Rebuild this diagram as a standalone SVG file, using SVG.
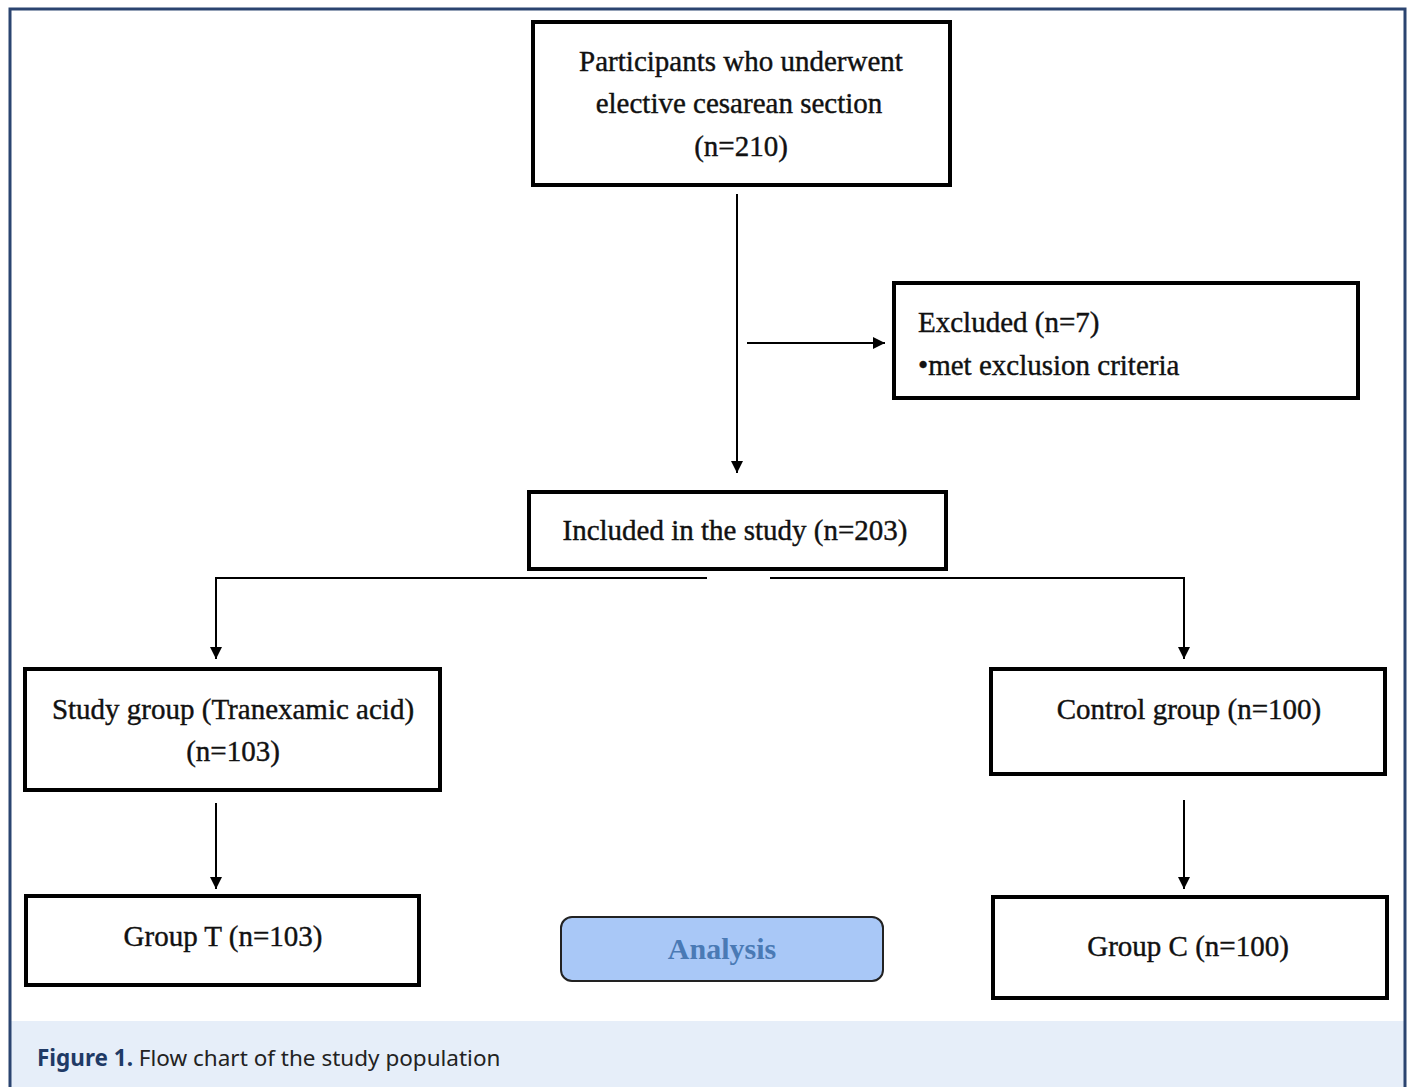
<svg xmlns="http://www.w3.org/2000/svg" width="1412" height="1087" viewBox="0 0 1412 1087">
<defs>
<marker id="ah" viewBox="0 0 12 12" refX="12" refY="6" markerWidth="12" markerHeight="12" markerUnits="userSpaceOnUse" orient="auto">
<path d="M0,0 L12,6 L0,12 z" fill="#000"/>
</marker>
<style>
.box{fill:#fff;stroke:#000;stroke-width:4}
.t{font-family:"Liberation Serif","Times New Roman",serif;font-size:29px;fill:#111;stroke:#111;stroke-width:0.4}
.c{stroke:#000;stroke-width:2;fill:none}
</style>
</defs>
<rect x="0" y="0" width="1412" height="1087" fill="#fff"/>
<rect x="11" y="1021" width="1393" height="66" fill="#e6eef9"/>
<path d="M10,1087 V9 H1405 V1087" fill="none" stroke="#2b4470" stroke-width="3"/>
<g id="connectors">
<path class="c" d="M737,194 V473" marker-end="url(#ah)"/>
<path class="c" d="M747,343 H885" marker-end="url(#ah)"/>
<path class="c" d="M707,578 H216 V659" marker-end="url(#ah)"/>
<path class="c" d="M770,578 H1184 V659" marker-end="url(#ah)"/>
<path class="c" d="M216,803 V889" marker-end="url(#ah)"/>
<path class="c" d="M1184,800 V889" marker-end="url(#ah)"/>
</g>
<g id="n1">
<rect class="box" x="533" y="22" width="417" height="163"/>
<text class="t" x="741" y="71" text-anchor="middle">Participants  who underwent</text>
<text class="t" x="739" y="113" text-anchor="middle">elective cesarean section</text>
<text class="t" x="741" y="156" text-anchor="middle">(n=210)</text>
</g>
<g id="n2">
<rect class="box" x="894" y="283" width="464" height="115"/>
<text class="t" x="918" y="332">Excluded  (n=7)</text>
<text class="t" x="918" y="375">•met exclusion criteria</text>
</g>
<g id="n3">
<rect class="box" x="529" y="492" width="417" height="77"/>
<text class="t" x="735" y="540" text-anchor="middle">Included in the study (n=203)</text>
</g>
<g id="n4">
<rect class="box" x="25" y="669" width="415" height="121"/>
<text class="t" x="233" y="719" text-anchor="middle">Study group (Tranexamic acid)</text>
<text class="t" x="233" y="761" text-anchor="middle">(n=103)</text>
</g>
<g id="n5">
<rect class="box" x="991" y="669" width="394" height="105"/>
<text class="t" x="1189" y="719" text-anchor="middle">Control group  (n=100)</text>
</g>
<g id="n6">
<rect class="box" x="26" y="896" width="393" height="89"/>
<text class="t" x="223" y="946" text-anchor="middle">Group T (n=103)</text>
</g>
<g id="n7">
<rect x="561" y="917" width="322" height="64" rx="11" fill="#a9c8f7" stroke="#222" stroke-width="2"/>
<text x="722" y="959" text-anchor="middle" font-family="Liberation Serif,serif" font-size="30" font-weight="bold" fill="#4a7ab5">Analysis</text>
</g>
<g id="n8">
<rect class="box" x="993" y="897" width="394" height="101"/>
<text class="t" x="1188" y="956" text-anchor="middle">Group C (n=100)</text>
</g>
<text x="37" y="1066" font-family="Noto Sans,sans-serif" font-size="22.5" fill="#222"><tspan font-weight="bold" fill="#1f3a66">Figure 1.</tspan> Flow chart of the study population</text>
</svg>
